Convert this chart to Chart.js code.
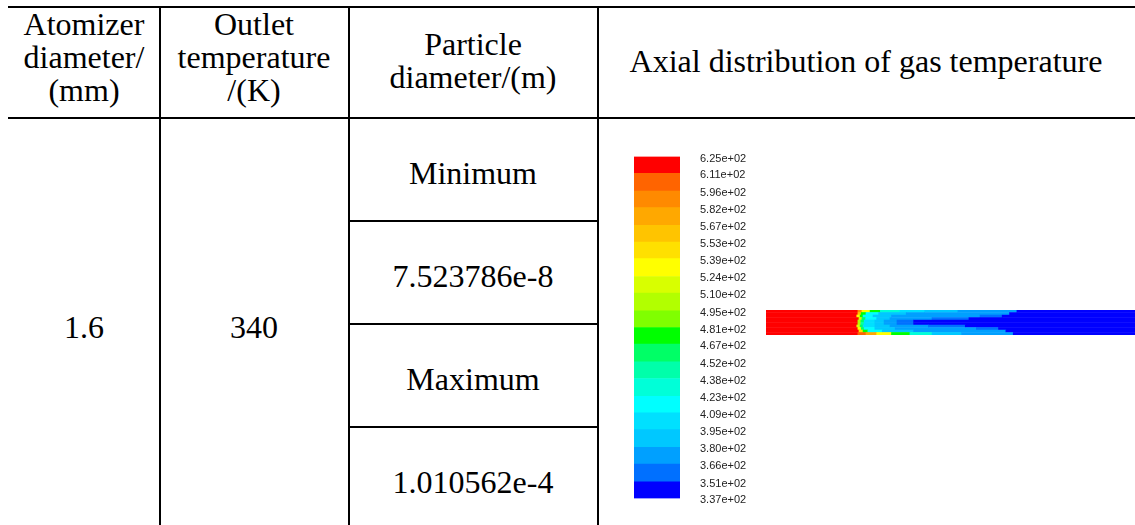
<!DOCTYPE html>
<html>
<head>
<meta charset="utf-8">
<script src="https://cdn.jsdelivr.net/npm/chart.js@4.4.1/dist/chart.umd.min.js"></script>
<style>
  html, body { margin: 0; padding: 0; background: #fff; }
  #page { position: relative; width: 1135px; height: 525px; overflow: hidden; background: #fff; }
  .rule { position: absolute; background: #000; }
  .txt {
    position: absolute; white-space: nowrap; line-height: 33px;
    font-family: "Liberation Serif", "Times New Roman", serif; font-size: 32px; color: #000;
    transform: translate(-50%, -50%);
  }
  canvas { position: absolute; }
</style>
</head>
<body>
<div id="page">
  <canvas id="colorbar" width="140" height="395" style="left:620px;top:130px"></canvas>
  <canvas id="contour" width="369" height="25" style="left:766px;top:310px"></canvas>
</div>
<script>
// table content
const headAtomizer = ['Atomizer', 'diameter/', '(mm)']
const headOutlet = ['Outlet', 'temperature', '/(K)']
const headParticle = ['Particle', 'diameter/(m)']
const headAxial = 'Axial distribution of gas temperature'
const atomizerDiameter = '1.6'
const outletTemperature = '340'
const particleRows = ['Minimum', '7.523786e-8', 'Maximum', '1.010562e-4']

// colour bar levels (K), top to bottom
const levels = [625, 611, 596, 582, 567, 553, 539, 524, 510, 495, 481, 467, 452, 438, 423, 409, 395, 380, 366, 351, 337]

// gas temperature along the pipe, one list per radial layer (top wall -> bottom wall)
// each entry: [end of segment in % of shown length, temperature K]
const r0 = [[24.9, 620], [26.0, 595], [28.2, 535], [31.0, 480], [36.3, 430], [43.0, 405], [52.0, 385], [68.0, 373], [100, 344]]
const r1 = [[24.9, 620], [25.8, 560], [27.1, 480], [30.5, 415], [38.0, 390], [66.0, 373], [100, 344]]
const r2 = [[24.6, 620], [25.5, 530], [26.3, 470], [29.0, 412], [34.0, 390], [58.0, 373], [64.0, 358], [100, 344]]
const r3 = [[25.2, 620], [26.0, 520], [27.0, 460], [30.0, 410], [33.6, 390], [45.0, 373], [55.0, 358], [100, 344]]
const r4 = [[24.9, 620], [25.7, 510], [26.6, 455], [29.5, 405], [32.0, 385], [35.5, 368], [40.0, 358], [100, 344]]
const r5 = [[24.9, 620], [25.7, 505], [26.6, 452], [29.5, 402], [32.0, 384], [35.5, 368], [40.0, 358], [100, 344]]
const r6 = [[24.6, 620], [25.5, 515], [26.3, 458], [29.5, 408], [33.6, 388], [44.0, 373], [54.0, 358], [100, 344]]
const r7 = [[24.9, 620], [25.8, 525], [26.6, 465], [29.5, 410], [35.0, 388], [57.0, 373], [63.0, 358], [100, 344]]
const r8 = [[25.2, 620], [26.3, 540], [27.6, 470], [31.5, 412], [40.0, 390], [65.0, 373], [100, 344]]
const r9 = [[24.9, 620], [27.1, 610], [30.0, 570], [34.0, 530], [39.0, 480], [45.0, 425], [53.0, 395], [67.0, 373], [100, 344]]
const layers = [r0, r1, r2, r3, r4, r5, r6, r7, r8, r9]

// Fluent style band colours, top (hot) to bottom (cold)
const palette = ['#ff0000', '#ff6400', '#ff8a00', '#ffa800', '#ffc400', '#ffe000', '#ffff00', '#d8ff00',
  '#b2ff00', '#80ff00', '#00ff00', '#00ff66', '#00ffaa', '#00ffd8', '#00ffff', '#00e0ff',
  '#00c8ff', '#00a0ff', '#0070ff', '#0000ff']

const page = document.getElementById('page')

const rule = (x, y, w, h) => {
  const d = document.createElement('div')
  d.className = 'rule'
  d.style.cssText = `left:${x}px;top:${y}px;width:${w}px;height:${h}px`
  page.appendChild(d)
}
const text = (s, cx, cy) => {
  const d = document.createElement('div')
  d.className = 'txt'
  d.textContent = s
  d.style.left = cx + 'px'
  d.style.top = cy + 'px'
  page.appendChild(d)
}

// table rules
rule(8, 6, 1127, 2)
rule(8, 117, 1127, 2)
rule(159, 6, 2, 519)
rule(348, 6, 2, 519)
rule(597, 6, 2, 519)
rule(349, 220, 249, 2)
rule(349, 323, 249, 2)
rule(349, 426, 249, 2)

// table text
headAtomizer.forEach((s, i) => text(s, 84, 24 + i * 33))
headOutlet.forEach((s, i) => text(s, 254, 24 + i * 33))
headParticle.forEach((s, i) => text(s, 473, 44 + i * 33))
text(headAxial, 866, 61)
text(atomizerDiameter, 84, 327)
text(outletTemperature, 254, 327)
particleRows.forEach((s, i) => text(s, 473, 173 + i * 103))

const colorFor = (t) => {
  for (let i = 0; i < levels.length - 1; i++) {
    if (t <= levels[i] && t > levels[i + 1]) return palette[i]
  }
  return t > levels[0] ? palette[0] : palette[palette.length - 1]
}

// colour bar
new Chart(document.getElementById('colorbar'), {
  type: 'bar',
  data: {
    labels: ['T'],
    datasets: [{
      data: palette.map((c, i) => ({ x: 'T', y: [levels[i + 1], levels[i]] })),
      backgroundColor: palette,
      borderWidth: 0,
      categoryPercentage: 1,
      barPercentage: 1,
    }]
  },
  options: {
    responsive: false,
    animation: false,
    devicePixelRatio: 1,
    layout: { padding: { left: 14, top: 11, bottom: 17, right: 0 } },
    plugins: { legend: { display: false }, tooltip: { enabled: false } },
    scales: {
      x: { display: false },
      y: {
        type: 'linear',
        position: 'right',
        min: 337,
        max: 625,
        grid: { display: false, drawTicks: false },
        border: { display: false },
        afterBuildTicks: (axis) => { axis.ticks = levels.map(v => ({ value: v })) },
        afterFit: (axis) => { axis.width = 80 },
        ticks: {
          padding: 20,
          labelOffset: 2,
          color: '#222',
          font: { family: 'Liberation Sans', size: 11 },
          callback: (v) => (v / 100).toFixed(2) + 'e+02',
        }
      }
    }
  }
})

// axial contour of gas temperature
const layerLabels = layers.map((l, i) => 'r' + i)
const segments = []
layers.forEach((l, i) => {
  let start = 0
  l.forEach(([end, t]) => {
    segments.push({ y: layerLabels[i], x: [start, end], t: t })
    start = end
  })
})

new Chart(document.getElementById('contour'), {
  type: 'bar',
  data: {
    labels: layerLabels,
    datasets: [{
      data: segments,
      backgroundColor: (c) => colorFor(c.raw ? c.raw.t : 344),
      borderWidth: 0,
      categoryPercentage: 1,
      barPercentage: 1,
    }]
  },
  options: {
    indexAxis: 'y',
    responsive: false,
    animation: false,
    devicePixelRatio: 1,
    layout: { padding: 0 },
    plugins: { legend: { display: false }, tooltip: { enabled: false } },
    scales: {
      x: { type: 'linear', min: 0, max: 100, display: false },
      y: { type: 'category', display: false },
    }
  }
})
</script>
</body>
</html>
